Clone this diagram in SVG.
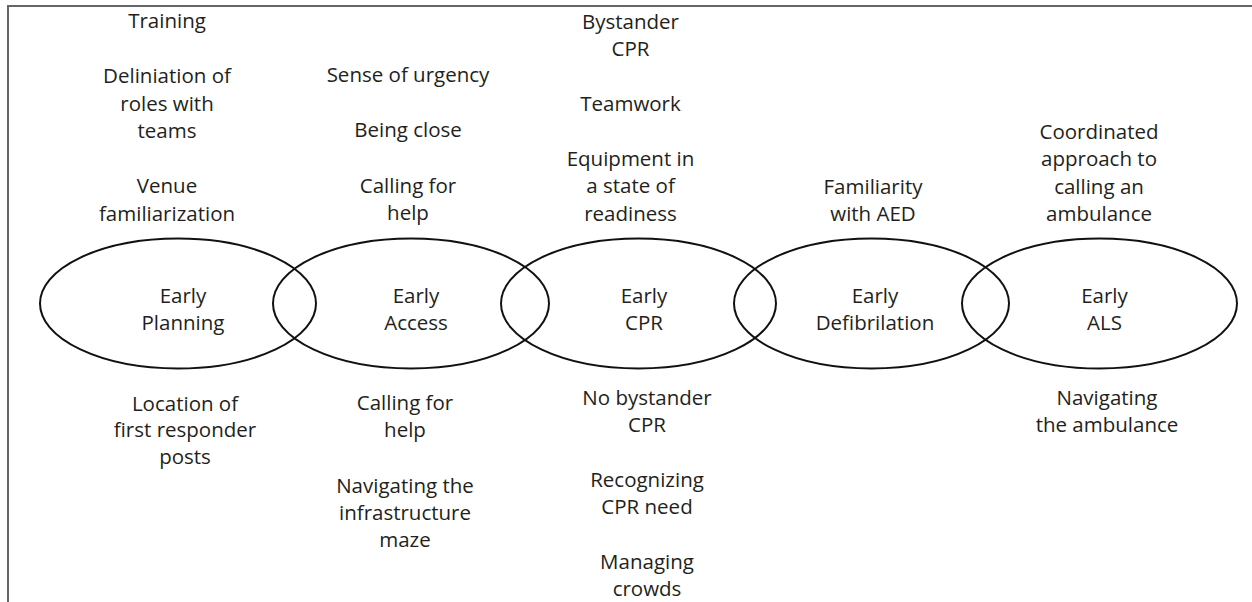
<svg xmlns="http://www.w3.org/2000/svg" width="1252" height="602" viewBox="0 0 1252 602">
<style>
text{font-family:"Open Sans","Liberation Sans",sans-serif;font-size:20.5px;fill:#231f20;text-anchor:middle}
.ring{fill:none;stroke:#111;stroke-width:2}
.frame{fill:none;stroke:#666;stroke-width:2}
</style>
<rect width="1252" height="602" fill="#fff"/>
<path class="frame" d="M8,602 V6 H1252"/>
<g id="connectors"></g>
<g id="node-planning">
<ellipse class="ring" cx="178" cy="303.5" rx="138" ry="65"/>
<text x="183" y="303">Early</text><text x="183" y="330">Planning</text>
<text x="167" y="28">Training</text>
<text x="167" y="83">Deliniation of</text><text x="167" y="110.5">roles with</text><text x="167" y="138">teams</text>
<text x="167" y="193">Venue</text><text x="167" y="220.5">familiarization</text>
<text x="185" y="410.5">Location of</text><text x="185" y="437">first responder</text><text x="185" y="464">posts</text>
</g>
<g id="node-access">
<ellipse class="ring" cx="411" cy="303.5" rx="138" ry="65"/>
<text x="416" y="303">Early</text><text x="416" y="330">Access</text>
<text x="408" y="82">Sense of urgency</text>
<text x="408" y="137">Being close</text>
<text x="408" y="192.5">Calling for</text><text x="408" y="220">help</text>
<text x="405" y="410">Calling for</text><text x="405" y="437">help</text>
<text x="405" y="493">Navigating the</text><text x="405" y="520">infrastructure</text><text x="405" y="547">maze</text>
</g>
<g id="node-cpr">
<ellipse class="ring" cx="638.5" cy="303.5" rx="137.5" ry="65"/>
<text x="644" y="303">Early</text><text x="644" y="330">CPR</text>
<text x="630.5" y="29">Bystander</text><text x="630.5" y="56">CPR</text>
<text x="630.5" y="111">Teamwork</text>
<text x="630.5" y="166">Equipment in</text><text x="630.5" y="193">a state of</text><text x="630.5" y="220.5">readiness</text>
<text x="647" y="405">No bystander</text><text x="647" y="432">CPR</text>
<text x="647" y="487">Recognizing</text><text x="647" y="514">CPR need</text>
<text x="647" y="569">Managing</text><text x="647" y="596">crowds</text>
</g>
<g id="node-defibrilation">
<ellipse class="ring" cx="871.5" cy="303.5" rx="137.5" ry="65"/>
<text x="875" y="303">Early</text><text x="875" y="330">Defibrilation</text>
<text x="873" y="194">Familiarity</text><text x="873" y="221">with AED</text>
</g>
<g id="node-als">
<ellipse class="ring" cx="1099.5" cy="303.5" rx="137.5" ry="65"/>
<text x="1104.5" y="303">Early</text><text x="1104.5" y="330">ALS</text>
<text x="1099" y="139">Coordinated</text><text x="1099" y="166">approach to</text><text x="1099" y="193.5">calling an</text><text x="1099" y="220.5">ambulance</text>
<text x="1107" y="405">Navigating</text><text x="1107" y="432">the ambulance</text>
</g>
</svg>
